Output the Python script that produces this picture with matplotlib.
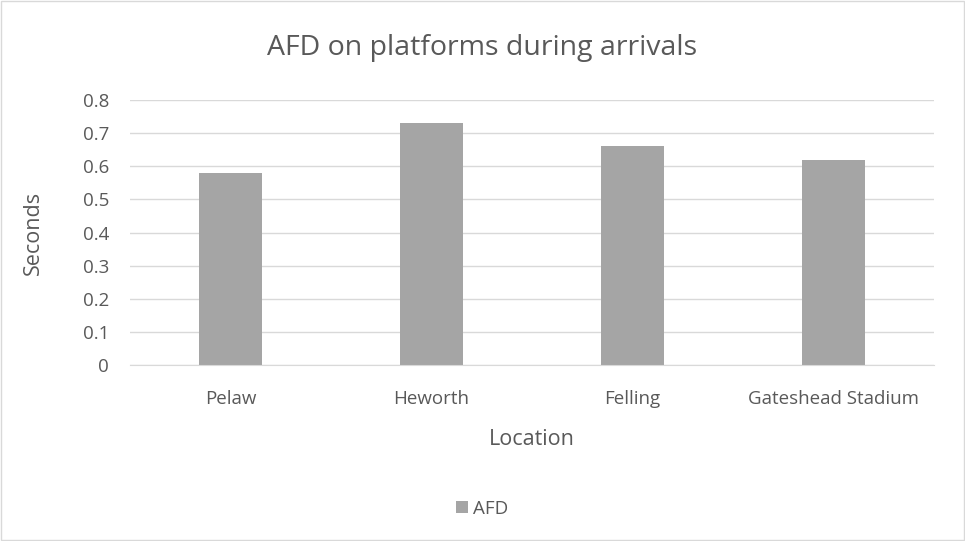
import matplotlib.pyplot as plt
from matplotlib.patches import Rectangle

# data
locations = ["Pelaw", "Heworth", "Felling", "Gateshead Stadium"]
afd_seconds = [0.58, 0.73, 0.66, 0.62]
y_ticks = [0, 0.1, 0.2, 0.3, 0.4, 0.5, 0.6, 0.7, 0.8]

text_col = "#595959"
bar_col = "#a5a5a5"
grid_col = "#d9d9d9"

plt.rcParams["font.family"] = ["Open Sans", "DejaVu Sans"]

fig = plt.figure(figsize=(9.65, 5.41), dpi=100)
ax = fig.add_axes([0.1347, 0.3253, 0.8333, 0.4898])

x = list(range(len(locations)))
ax.bar(x, afd_seconds, width=0.31, color=bar_col, label="AFD", zorder=2)

ax.set_xlim(-0.5, len(locations) - 0.5)
ax.set_ylim(0, 0.8)
ax.set_yticks(y_ticks)
ax.set_yticklabels(["0" if t == 0 else f"{t:.1f}" for t in y_ticks])
ax.set_xticks(x)
ax.set_xticklabels(locations)
ax.tick_params(axis="both", length=0, labelsize=13.5, colors=text_col)
ax.tick_params(axis="x", pad=18)
ax.tick_params(axis="y", pad=15)

ax.yaxis.grid(True, color=grid_col, linewidth=1, zorder=0)
for s in ["top", "right", "left"]:
    ax.spines[s].set_visible(False)
ax.spines["bottom"].set_color(grid_col)

ax.set_ylabel("Seconds", fontsize=15.5, color=text_col, labelpad=28)
ax.set_xlabel("Location", fontsize=15.5, color=text_col, labelpad=15)

fig.text(0.5, 0.911, "AFD on platforms during arrivals", ha="center", va="center",
         fontsize=20.5, color=text_col)

fig.legend(loc="center", bbox_to_anchor=(0.5, 0.06), frameon=False, fontsize=13.5,
           handlelength=0.6, handleheight=0.6, handletextpad=0.3,
           labelcolor=text_col)

# light frame round the chart
fig.patches.append(Rectangle((0.001, 0.001), 0.998, 0.997, transform=fig.transFigure,
                             fill=False, edgecolor="#d9d9d9", linewidth=1))

fig.savefig("out.png", dpi=100)
